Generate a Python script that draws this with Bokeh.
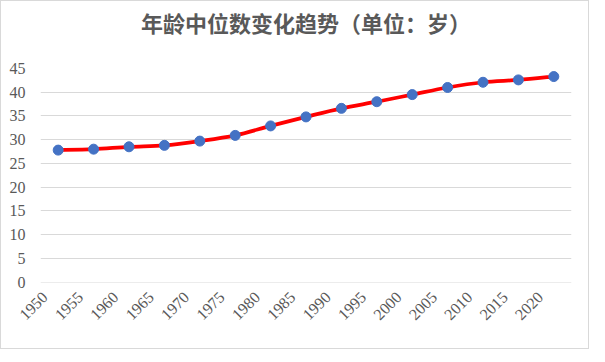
from bokeh.plotting import figure
from bokeh.models import FixedTicker, Range1d, ColumnDataSource
from bokeh.embed import file_html
from bokeh.resources import INLINE
import math

years = [1950, 1955, 1960, 1965, 1970, 1975, 1980, 1985, 1990, 1995, 2000, 2005, 2010, 2015, 2020]
year_labels = ["1950", "1955", "1960", "1965", "1970", "1975", "1980", "1985", "1990", "1995",
               "2000", "2005", "2010", "2015", "2020"]
median_age = [27.8, 28.0, 28.5, 28.8, 29.7, 30.9, 32.9, 34.8, 36.6, 38.0, 39.5, 41.0, 42.1, 42.6, 43.3]
y_ticks = [0, 5, 10, 15, 20, 25, 30, 35, 40, 45]
title_text = "年龄中位数变化趋势（单位：岁）"

p = figure(frame_width=531, frame_height=214, output_backend="svg", toolbar_location=None,
           x_range=Range1d(1947.5, 2022.5), y_range=Range1d(-0.1, 45),
           min_border_left=39, min_border_right=17, min_border_top=64, min_border_bottom=66)
p.background_fill_color = "white"
p.border_fill_color = "white"
p.outline_line_color = None

p.title.text = title_text
p.title.align = "center"
p.title.offset = -12
p.title.standoff = 4
p.title.padding = dict(left=0, right=0, top=0, bottom=29)
p.title.text_font = "Noto Sans CJK SC"
p.title.text_font_size = "22px"
p.title.text_font_style = "bold"
p.title.text_color = "#595959"

for ax in (p.xaxis, p.yaxis):
    ax.axis_line_color = None
    ax.major_tick_line_color = None
    ax.minor_tick_line_color = None
    ax.major_label_text_font = "Liberation Serif"
    ax.major_label_text_font_size = "16px"
    ax.major_label_text_color = "#595959"

p.yaxis.ticker = FixedTicker(ticks=y_ticks)
p.yaxis.major_label_standoff = 9

# x tick labels: rotated 45 degrees, anchored slightly left of each year (as in the reference)
label_shift = 1.9
label_pos = [y - label_shift for y in years]
p.xaxis.ticker = FixedTicker(ticks=label_pos)
p.xaxis.major_label_overrides = {pos: lab for pos, lab in zip(label_pos, year_labels)}
p.xaxis.major_label_orientation = math.pi / 4
p.xaxis.major_label_standoff = 6

p.xgrid.grid_line_color = None
p.ygrid.grid_line_color = "#D9D9D9"
p.ygrid.grid_line_width = 1
p.ygrid.ticker = FixedTicker(ticks=y_ticks)

# smoothed line (Bezier segments through the data points)
n = len(years)
x0, y0, x1, y1, cx0, cy0, cx1, cy1 = [], [], [], [], [], [], [], []
for i in range(n - 1):
    pm = max(i - 1, 0)
    pn = min(i + 2, n - 1)
    x0.append(years[i]); y0.append(median_age[i])
    x1.append(years[i + 1]); y1.append(median_age[i + 1])
    cx0.append(years[i] + (years[i + 1] - years[pm]) / 6)
    cy0.append(median_age[i] + (median_age[i + 1] - median_age[pm]) / 6)
    cx1.append(years[i + 1] - (years[pn] - years[i]) / 6)
    cy1.append(median_age[i + 1] - (median_age[pn] - median_age[i]) / 6)
p.bezier(x0=x0, y0=y0, x1=x1, y1=y1, cx0=cx0, cy0=cy0, cx1=cx1, cy1=cy1,
         line_color="#FF0000", line_width=3.75)

src = ColumnDataSource(dict(x=years, y=median_age))
p.scatter("x", "y", source=src, size=10, fill_color="#4472C4", line_color="#4472C4")

p.styles = {"border": "1px solid #D9D9D9"}

open("out.html", "w").write(file_html(p, INLINE))
